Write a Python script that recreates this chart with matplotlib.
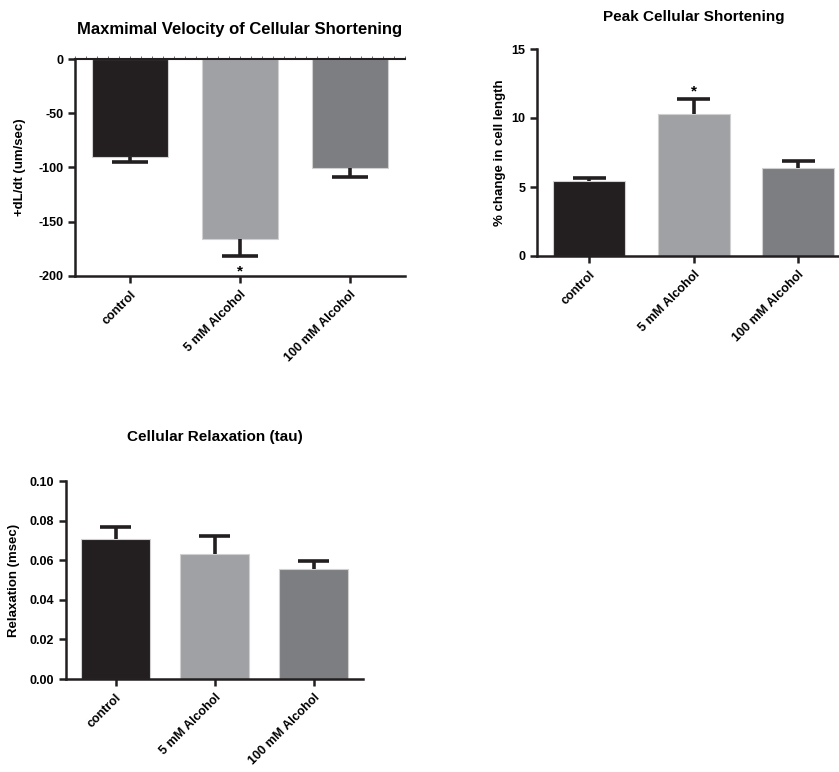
import matplotlib.pyplot as plt
from matplotlib.ticker import MultipleLocator

plt.rcParams['font.family'] = ['Liberation Sans', 'DejaVu Sans']
plt.rcParams['font.weight'] = 'bold'
plt.rcParams['axes.titleweight'] = 'bold'
plt.rcParams['axes.labelweight'] = 'bold'
plt.rcParams['axes.unicode_minus'] = False

groups = ['control', '5 mM Alcohol', '100 mM Alcohol']
colors = ['#231f20', '#a0a1a5', '#7d7e82']

velocity = [-90.5, -166, -100.8]
velocity_err = [4.8, 15.5, 8.0]

peak = [5.42, 10.27, 6.35]
peak_err = [0.25, 1.08, 0.52]

tau = [0.0705, 0.0633, 0.0555]
tau_err = [0.0061, 0.0090, 0.0043]

fig = plt.figure(figsize=(8.39, 7.72), dpi=100)


def bar_panel(ax, vals, errs, down=False):
    x = list(range(len(vals)))
    ax.bar(x, vals, width=0.69, color=colors, edgecolor='#d0d0d0', linewidth=0.8, zorder=2)
    sign = -1 if down else 1
    ends = [v + sign * e for v, e in zip(vals, errs)]
    # one-sided SEM bars, cap only on the far end
    ax.vlines(x, vals, ends, color='#231f20', lw=2.6, zorder=3)
    ax.hlines(ends, [i - 0.16 for i in x], [i + 0.16 for i in x], color='#231f20', lw=2.6, zorder=3)
    ax.set_xlim(-0.5, 2.5)
    ax.set_xticks(x)
    ax.set_xticklabels(groups, rotation=45, ha='right', rotation_mode='anchor', fontsize=8.5)
    for s in ['top', 'right']:
        ax.spines[s].set_visible(False)
    for s in ['left', 'bottom']:
        ax.spines[s].set_linewidth(1.8)
        ax.spines[s].set_color('#231f20')
    ax.tick_params(axis='both', width=1.8, length=5, color='#231f20', labelsize=9)
    ax.tick_params(axis='x', pad=4)


# panel 1
ax1 = fig.add_axes([75 / 839, 1 - 276 / 772, 330 / 839, 217 / 772])
bar_panel(ax1, velocity, velocity_err, down=True)
ax1.set_ylim(-200, 0)
ax1.set_yticks([0, -50, -100, -150, -200])
ax1.axhline(0, color='#231f20', lw=1.5, zorder=4, clip_on=False)
top = ax1.secondary_xaxis('top')
top.xaxis.set_minor_locator(MultipleLocator(0.1))
top.set_xticks([])
top.tick_params(which='minor', length=2.5, width=0.6, color='#555555', direction='out')
top.spines['top'].set_visible(False)
ax1.text(1, -196, '*', ha='center', va='center', fontsize=11)
ax1.set_ylabel('+dL/dt (um/sec)', fontsize=9.5, labelpad=9)
ax1.set_title('Maxmimal Velocity of Cellular Shortening', fontsize=12, pad=18)

# panel 2
ax2 = fig.add_axes([537 / 839, 1 - 256 / 772, 313.5 / 839, 207 / 772])
bar_panel(ax2, peak, peak_err)
ax2.set_ylim(0, 15)
ax2.set_yticks([0, 5, 10, 15])
ax2.text(1, peak[1] + peak_err[1] + 0.55, '*', ha='center', va='center', fontsize=11)
ax2.set_ylabel('% change in cell length', fontsize=9.5, labelpad=4)
ax2.set_title('Peak Cellular Shortening', fontsize=11, pad=20)

# panel 3
ax3 = fig.add_axes([66 / 839, 1 - 679 / 772, 297 / 839, 198 / 772])
bar_panel(ax3, tau, tau_err)
ax3.set_ylim(0, 0.1)
ax3.set_yticks([0, 0.02, 0.04, 0.06, 0.08, 0.10])
ax3.set_yticklabels(['0.00', '0.02', '0.04', '0.06', '0.08', '0.10'])
ax3.set_ylabel('Relaxation (msec)', fontsize=9.5, labelpad=7)
ax3.set_title('Cellular Relaxation (tau)', fontsize=11, pad=29)

fig.savefig('out.png', dpi=100)
